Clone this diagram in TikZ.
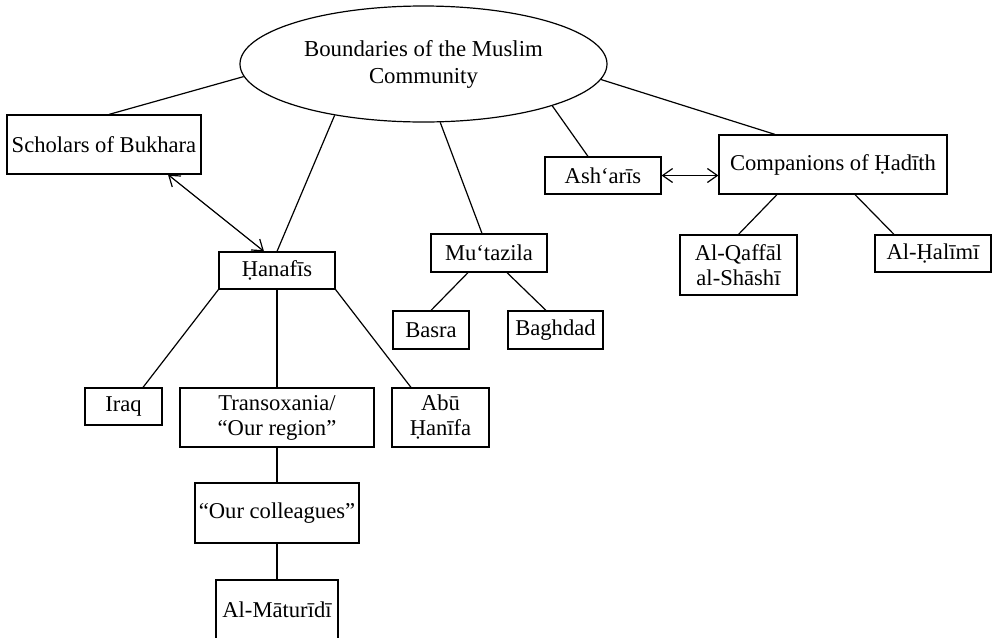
\documentclass[tikz,border=0pt]{standalone}
\usepackage{fontspec}
\setmainfont{Liberation Serif}
\usetikzlibrary{arrows.meta,shapes}

\begin{document}
\begin{tikzpicture}[x = 0.5pt, y = -0.5pt, font = \fontsize{11.3}{12.5}\selectfont, line width = 0.6pt,
  box/.style n args = {2}{draw, align = center, inner sep = 0pt, minimum width = #1, minimum height = #2},
  both/.style = {{Straight Barb[length=5pt,width=7pt]}-{Straight Barb[length=5pt,width=7pt]}}]
\useasboundingbox (0,0) rectangle (993,638);
\node[draw, ellipse, align = center, inner sep = 0pt, minimum width = 183.5pt, minimum height = 58pt,
  font = \fontsize{11.4}{13.5}\selectfont] (bnd) at (423.5,64) {Boundaries of the Muslim\\Community};
\node[box = {97pt}{29.5pt}] (sch) at (104,144.5) {Scholars of Bukhara};
\node[box = {58pt}{18.5pt}] (han) at (277,270.5) {Ḥanafīs};
\node[box = {58pt}{19pt}] (mut) at (489,253) {Mu‘tazila};
\node[box = {38pt}{19pt}] (bas) at (431,330) {Basra};
\node[box = {47.5pt}{19pt}] (bag) at (555.5,330) {Baghdad};
\node[box = {58pt}{18.5pt}] (ash) at (603,175.5) {Ash‘arīs};
\node[box = {114pt}{29.5pt}] (com) at (833,164.5) {Companions of Ḥadīth};
\node[box = {58.5pt}{30pt}] (qaf) at (738.5,265) {Al-Qaffāl\\al-Shāshī};
\node[box = {58pt}{18.5pt}] (hal) at (933,253.5) {Al-Ḥalīmī};
\node[box = {38.5pt}{18.5pt}] (irq) at (123.5,406.5) {Iraq};
\node[box = {97pt}{29.5pt}] (trx) at (277,417.5) {Transoxania/\\“Our region”};
\node[box = {48.5pt}{29.5pt}] (abu) at (440.5,417.5) {Abū\\Ḥanīfa};
\node[box = {82pt}{30pt}] (col) at (277,513) {“Our colleagues”};
\node[box = {61pt}{30pt}] (mat) at (277,610) {Al-Māturīdī};
% top level
\draw (bnd.184) -- ([xshift=2.5pt]sch.north);
\draw (bnd.210) -- (han.north);
\draw (bnd.286) -- ([xshift=-3.5pt]mut.north);
\draw (bnd.342) -- ([xshift=-7.5pt]ash.north);
\draw (bnd.355.5) -- ([xshift=-29pt]com.north);
\draw[both] ([xshift=32pt]sch.south) -- ([xshift=-6.5pt]han.north);
\draw[both] (ash.east) -- (ash.east -| com.west);
% Hanafis
\draw (han.south west) -- ([xshift=9.75pt]irq.north);
\draw (han.south) -- (trx.north);
\draw (han.south east) -- ([xshift=-14.75pt]abu.north);
\draw (trx.south) -- (col.north);
\draw (col.south) -- (mat.north);
% Mu'tazila
\draw ([xshift=-10.5pt]mut.south) -- (bas.north);
\draw ([xshift=9pt]mut.south) -- ([xshift=-4.75pt]bag.north);
% Companions
\draw ([xshift=-28pt]com.south) -- (qaf.north);
\draw ([xshift=11pt]com.south) -- ([xshift=-19.5pt]hal.north);
\end{tikzpicture}
\end{document}
